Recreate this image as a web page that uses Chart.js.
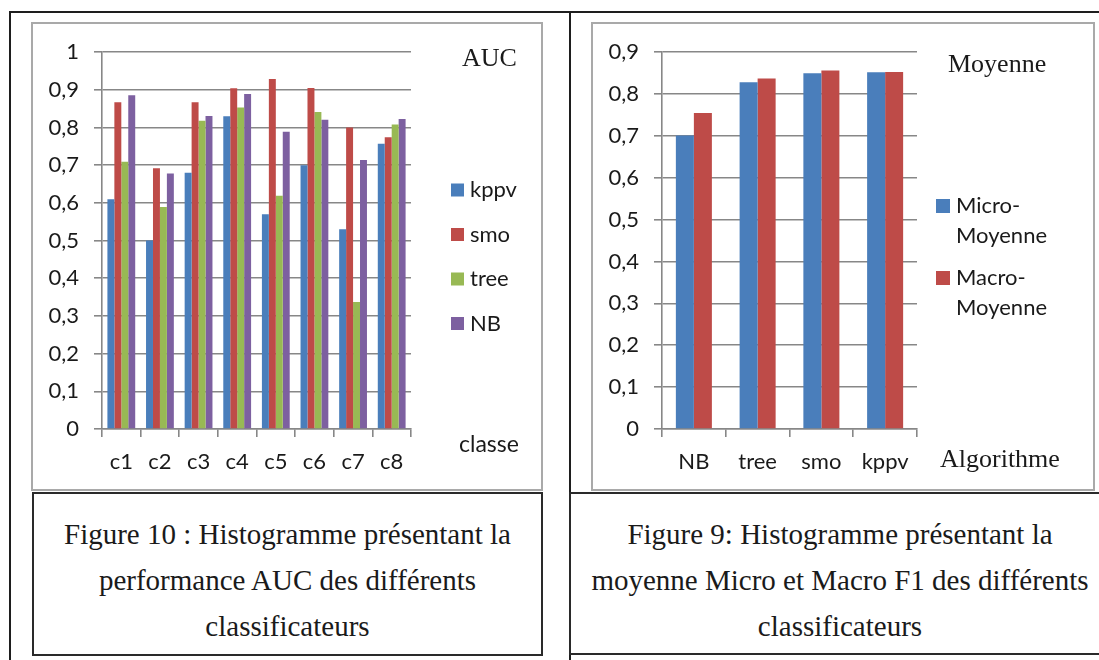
<!DOCTYPE html>
<html>
<head>
<meta charset="utf-8">
<script src="https://cdn.jsdelivr.net/npm/chart.js@4/dist/chart.umd.min.js"></script>
<style>
  body { margin: 0; background: #fff; width: 1099px; height: 660px; overflow: hidden; position: relative; }
  .line { position: absolute; background: #1e1e1e; }
  .box { position: absolute; border: 2px solid #a9a9a9; background: #fff; }
  .box canvas { display: block; }
  .caption { position: absolute; border: 2px solid #2a2a2a; box-sizing: border-box; }
  .caption p { margin: 0; position: absolute; left: 0; right: 0; top: 17px; text-align: center;
    font-family: "Liberation Serif", serif; font-size: 29px; line-height: 46px; color: #1a1a1a; }
</style>
</head>
<body>
<div class="line" style="left:9px; top:11px; width:1090px; height:2px;"></div>
<div class="line" style="left:9px; top:11px; width:2px; height:649px;"></div>
<div class="line" style="left:569px; top:11px; width:2px; height:649px;"></div>

<div class="box" style="left:31px; top:22px;"><canvas id="auc-chart" width="508" height="465"></canvas></div>
<div class="box" style="left:591px; top:22px;"><canvas id="f1-chart" width="500" height="465"></canvas></div>

<div class="caption" style="left:32px; top:492px; width:511px; height:164px;">
  <p>Figure 10 : Histogramme présentant la<br>performance AUC des différents<br>classificateurs</p>
</div>
<div class="caption" style="left:569px; top:492px; width:542px; height:163px;">
  <p>Figure 9: Histogramme présentant la<br>moyenne Micro et Macro F1 des différents<br>classificateurs</p>
</div>

<script>
// Figure 10 - AUC per class
const classes = ['c1', 'c2', 'c3', 'c4', 'c5', 'c6', 'c7', 'c8'];
const aucKppv = [0.61, 0.50, 0.68, 0.83, 0.57, 0.70, 0.53, 0.757];
const aucSmo = [0.867, 0.692, 0.867, 0.904, 0.929, 0.905, 0.80, 0.774];
const aucTree = [0.709, 0.589, 0.818, 0.853, 0.619, 0.841, 0.337, 0.808];
const aucNB = [0.886, 0.678, 0.831, 0.889, 0.789, 0.821, 0.714, 0.823];

// Figure 9 - micro / macro F1
const algorithms = ['NB', 'tree', 'smo', 'kppv'];
const microF1 = [0.701, 0.828, 0.850, 0.852];
const macroF1 = [0.755, 0.837, 0.856, 0.853];

const BLUE = '#4A7EBB', RED = '#BE4B48', GREEN = '#98B954', PURPLE = '#7D60A0';
const GRID = '#878787';
const SANS = 'Lato';

function commaTick(v) {
    return String(Math.round(v * 10) / 10).replace('.', ',');
}

// legend + the two loose axis captions, drawn on top of the chart
const extrasPlugin = {
    id: 'extras',
    afterDraw(chart, args, opts) {
        const ctx = chart.ctx;
        ctx.save();
        ctx.textAlign = 'left';
        chart.data.datasets.forEach((ds, i) => {
            const y = opts.legendY + i * opts.legendGap;
            ctx.fillStyle = ds.backgroundColor;
            ctx.fillRect(opts.legendX, y - opts.box / 2, opts.box, opts.box);
            ctx.fillStyle = '#1a1a1a';
            ctx.font = opts.legendFont;
            ctx.textBaseline = 'middle';
            ds.label.split(/(?<=-)/).forEach((part, j) => {
                ctx.fillText(part, opts.legendX + opts.box + 6, y + j * opts.lineGap);
            });
        });
        ctx.textBaseline = 'alphabetic';
        ctx.fillStyle = '#1a1a1a';
        ctx.font = opts.topFont;
        ctx.fillText(opts.topText, opts.topX, opts.topY);
        ctx.font = opts.bottomFont;
        ctx.fillText(opts.bottomText, opts.bottomX, opts.bottomY);
        ctx.restore();
    }
};

function scalesFor(max) {
    return {
        x: {
            grid: { display: true, drawOnChartArea: false, drawTicks: true, tickLength: 8, color: GRID, lineWidth: 1.6 },
            border: { display: true, color: GRID, width: 1.6 },
            ticks: { color: '#1a1a1a', font: { family: SANS, size: 22 }, padding: 12 },
            afterFit: scale => { scale.height = 60; }
        },
        y: {
            min: 0,
            max: max,
            grid: { color: GRID, lineWidth: 1.6, tickLength: 8 },
            border: { display: true, color: GRID, width: 1.6 },
            ticks: { stepSize: 0.1, color: '#1a1a1a', font: { family: SANS, size: 22 }, padding: 15, callback: commaTick },
            afterFit: scale => { scale.width = 69; }
        }
    };
}

new Chart(document.getElementById('auc-chart'), {
    type: 'bar',
    data: {
        labels: classes,
        datasets: [
            { label: 'kppv', data: aucKppv, backgroundColor: BLUE },
            { label: 'smo', data: aucSmo, backgroundColor: RED },
            { label: 'tree', data: aucTree, backgroundColor: GREEN },
            { label: 'NB', data: aucNB, backgroundColor: PURPLE }
        ]
    },
    options: {
        responsive: false,
        animation: false,
        devicePixelRatio: 1,
        layout: { padding: { top: 25, right: 130, left: 0, bottom: 0 } },
        datasets: { bar: { categoryPercentage: 0.72, barPercentage: 1 } },
        scales: scalesFor(1),
        plugins: {
            legend: { display: false },
            tooltip: { enabled: false },
            extras: {
                legendX: 418, legendY: 166, legendGap: 44.5, lineGap: 0, box: 13,
                legendFont: '22px ' + SANS,
                topText: 'AUC', topX: 429, topY: 42, topFont: '26px "Liberation Serif"',
                bottomText: 'classe', bottomX: 426, bottomY: 428, bottomFont: '23px ' + SANS
            }
        }
    },
    plugins: [extrasPlugin]
});

new Chart(document.getElementById('f1-chart'), {
    type: 'bar',
    data: {
        labels: algorithms,
        datasets: [
            { label: 'Micro-Moyenne', data: microF1, backgroundColor: BLUE },
            { label: 'Macro-Moyenne', data: macroF1, backgroundColor: RED }
        ]
    },
    options: {
        responsive: false,
        animation: false,
        devicePixelRatio: 1,
        layout: { padding: { top: 25, right: 176, left: 0, bottom: 0 } },
        datasets: { bar: { categoryPercentage: 0.565, barPercentage: 1 } },
        scales: scalesFor(0.9),
        plugins: {
            legend: { display: false },
            tooltip: { enabled: false },
            extras: {
                legendX: 343, legendY: 182, legendGap: 72, lineGap: 30, box: 14,
                legendFont: '22px ' + SANS,
                topText: 'Moyenne', topX: 355, topY: 48, topFont: '26px "Liberation Serif"',
                bottomText: 'Algorithme', bottomX: 347, bottomY: 443, bottomFont: '26px "Liberation Serif"'
            }
        }
    },
    plugins: [extrasPlugin]
});
</script>
</body>
</html>
